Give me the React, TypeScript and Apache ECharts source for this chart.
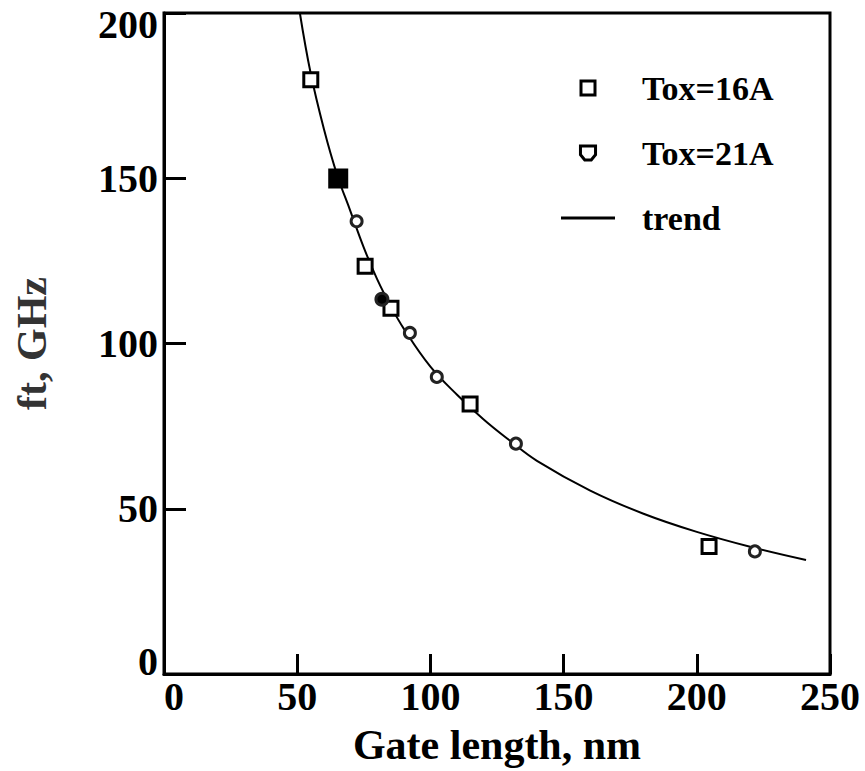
import React, { useEffect, useRef } from "react";
import * as echarts from "echarts";

// Tox = 16A (squares); one filled point
const tox16X = [55.1, 65.4, 75.5, 85.2, 114.9, 204.6];
const tox16Y = [179.8, 149.9, 123.4, 110.7, 81.7, 38.6];
const tox16Filled = [false, true, false, false, false, false];

// Tox = 21A (circles); one filled point
const tox21X = [72.3, 81.8, 92.3, 102.4, 132.1, 221.8];
const tox21Y = [137, 113.4, 103.2, 89.9, 69.7, 37.1];
const tox21Filled = [false, true, false, false, false, false];

// trend curve
const trendX = [51, 55, 60, 65, 70, 75, 80, 85, 90, 100, 110, 120, 130, 140, 160, 180, 200, 220, 241];
const trendY = [200, 182, 165, 151, 140, 129, 119.5, 111.5, 104.5, 93, 84.5, 77, 70.5, 64.5, 55.5, 48.5, 43, 38.5, 34.5];

const xTicks = [0, 50, 100, 150, 200, 250];
const yTicks = [0, 50, 100, 150, 200];

const seriesNames = ["Tox=16A", "Tox=21A", "trend"];
const xTitle = "Gate length, nm";
const yTitle = "ft, GHz";

const FONT = '"Liberation Serif", "Times New Roman", serif';

export default function App() {
  const ref = useRef<HTMLDivElement>(null);
  useEffect(() => {
    if (!ref.current) return;
    const chart = echarts.init(ref.current, undefined, { renderer: "svg" });
    const pts = (xs: number[], ys: number[], filled: boolean[], fsize: number) =>
      xs.map((x, i) =>
        filled[i]
          ? { value: [x, ys[i]], symbolSize: fsize, itemStyle: { color: "#000" } }
          : { value: [x, ys[i]] }
      );
    const labelFont = { fontFamily: FONT, fontSize: 40, fontWeight: "bold", color: "#000" };
    chart.setOption({
      animation: false,
      backgroundColor: "#fff",
      grid: {
        left: 164,
        right: 35,
        top: 13,
        bottom: 95,
        show: true,
        borderColor: "#000",
        borderWidth: 3,
      },
      legend: {
        orient: "vertical",
        left: 561,
        top: 70,
        padding: 0,
        itemWidth: 54,
        itemHeight: 14,
        itemGap: 29,
        symbolKeepAspect: true,
        textStyle: {
          fontFamily: FONT,
          fontSize: 34,
          fontWeight: "bold",
          color: "#000",
          lineHeight: 36,
          padding: [0, 0, 0, 22],
        },
        data: [
          {
            name: seriesNames[0],
            icon: "path://M0,0 L14,0 L14,14 L0,14 Z",
            itemStyle: { color: "#fff", borderColor: "#000", borderWidth: 3 },
          },
          {
            name: seriesNames[1],
            icon: "path://M0,0 L14,0 L14,8 L10,13 L4,13 L0,8 Z",
            itemStyle: { color: "#fff", borderColor: "#000", borderWidth: 3 },
          },
          {
            name: seriesNames[2],
            icon: "path://M0,0 L54,0 L54,3 L0,3 Z",
            itemStyle: { color: "#000", borderWidth: 0 },
          },
        ],
      },
      xAxis: {
        type: "value",
        min: xTicks[0],
        max: xTicks[xTicks.length - 1],
        interval: xTicks[1] - xTicks[0],
        name: xTitle,
        nameLocation: "middle",
        nameGap: 50,
        nameTextStyle: { fontFamily: FONT, fontSize: 42, fontWeight: "bold", color: "#000" },
        axisLine: { show: true, lineStyle: { color: "#000", width: 3 } },
        axisTick: { show: true, inside: true, length: 20, lineStyle: { color: "#000", width: 3 } },
        axisLabel: {
          margin: 2,
          ...labelFont,
          alignMinLabel: "left",
        },
        splitLine: { show: false },
      },
      yAxis: {
        type: "value",
        min: yTicks[0],
        max: yTicks[yTicks.length - 1],
        interval: yTicks[1] - yTicks[0],
        name: yTitle,
        nameLocation: "middle",
        nameGap: 111,
        nameTextStyle: { fontFamily: FONT, fontSize: 42, fontWeight: "bold", color: "#333" },
        axisLine: { show: true, lineStyle: { color: "#000", width: 3 } },
        axisTick: { show: true, inside: true, length: 22, lineStyle: { color: "#000", width: 3 } },
        axisLabel: {
          margin: 6,
          ...labelFont,
          formatter: (v: number) =>
            v === yTicks[0] ? `{lo|${v}}` : v === yTicks[yTicks.length - 1] ? `{hi|${v}}` : `{n|${v}}`,
          rich: {
            n: { ...labelFont },
            lo: { ...labelFont, padding: [0, 0, 26, 0] },
            hi: { ...labelFont, padding: [22, 0, 0, 0] },
          },
        },
        splitLine: { show: false },
      },
      series: [
        {
          name: seriesNames[2],
          type: "line",
          data: trendX.map((x, i) => [x, trendY[i]]),
          smooth: 0.4,
          symbol: "none",
          clip: true,
          lineStyle: { color: "#000", width: 2 },
          itemStyle: { color: "#000" },
          z: 2,
        },
        {
          name: seriesNames[0],
          type: "scatter",
          symbol: "rect",
          symbolSize: 14,
          data: pts(tox16X, tox16Y, tox16Filled, 17),
          itemStyle: { color: "#fff", borderColor: "#000", borderWidth: 3, opacity: 1 },
          z: 3,
        },
        {
          name: seriesNames[1],
          type: "scatter",
          symbol: "circle",
          symbolSize: 11,
          data: pts(tox21X, tox21Y, tox21Filled, 12),
          itemStyle: { color: "#fff", borderColor: "#222", borderWidth: 3, opacity: 1 },
          z: 3,
        },
      ],
    });
    return () => chart.dispose();
  }, []);
  return (
    <div
      ref={ref}
      style={{ position: "fixed", left: 0, top: 0, width: 865, height: 771, background: "#fff" }}
    />
  );
}
